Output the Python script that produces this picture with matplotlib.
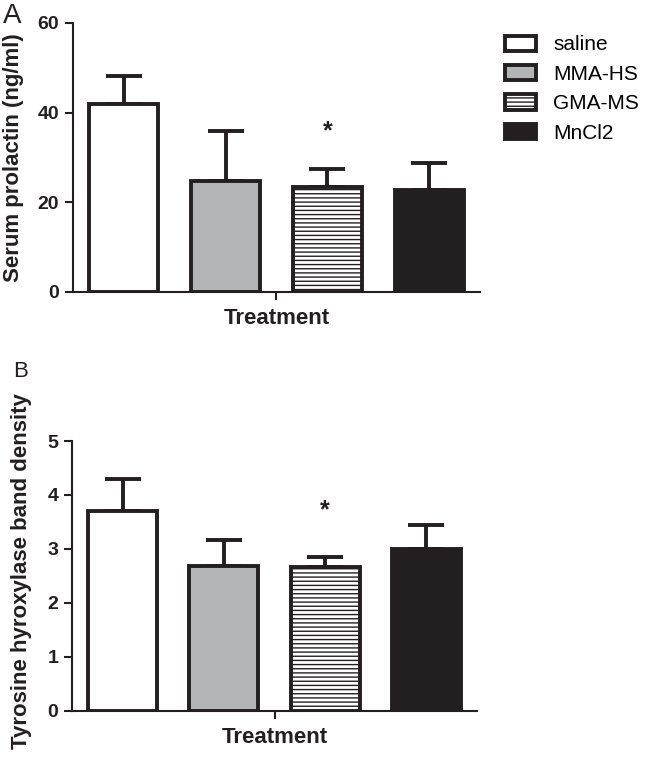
import matplotlib
matplotlib.use('Agg')
import matplotlib.pyplot as plt
from matplotlib.patches import Patch

# data
groups = ['saline', 'MMA-HS', 'GMA-MS', 'MnCl2']
prolactin = [42.0, 24.8, 23.4, 22.8]
prolactin_err = [6.2, 11.1, 4.1, 5.9]
th_density = [3.70, 2.68, 2.66, 2.99]
th_density_err = [0.59, 0.49, 0.19, 0.46]
sig_group = 2  # GMA-MS marked with *

edge = '#231f20'
fills = ['white', '#b3b4b6', 'white', '#231f20']
hatches = [None, None, '----', None]

plt.rcParams['font.family'] = ['Liberation Sans', 'DejaVu Sans']
plt.rcParams['hatch.linewidth'] = 1.0
plt.rcParams['hatch.color'] = edge

fig = plt.figure(figsize=(6.46, 7.58), dpi=100)
ax_a = fig.add_axes([0.113, 0.6148, 0.630, 0.3549])
ax_b = fig.add_axes([0.1115, 0.0624, 0.627, 0.3558])


def draw_panel(ax, values, errs, ylim, yticks, ylabel, star_y):
    x = list(range(len(values)))
    ax.errorbar(x, values, yerr=[[0] * len(errs), errs], fmt='none',
                ecolor=edge, elinewidth=2.8, capsize=13, capthick=2.8, zorder=1)
    for xi, v, fc, h in zip(x, values, fills, hatches):
        ax.bar(xi, v, width=0.68, color=fc, edgecolor=edge, linewidth=2.8,
               hatch=h, zorder=2)
    ax.text(sig_group, star_y, '*', ha='center', va='center',
            fontsize=18, fontweight='bold', color=edge)
    ax.set_xlim(-0.5, 3.5)
    ax.set_ylim(*ylim)
    ax.set_yticks(yticks)
    ax.set_xticks([1.5])
    ax.set_xticklabels([''])
    for side in ['top', 'right']:
        ax.spines[side].set_visible(False)
    for side in ['left', 'bottom']:
        ax.spines[side].set_linewidth(1.5)
        ax.spines[side].set_color(edge)
    ax.tick_params(axis='both', length=6, width=1.5, color=edge)
    ax.tick_params(axis='y', labelsize=14, pad=4, labelcolor=edge)
    for lab in ax.get_yticklabels():
        lab.set_fontweight('bold')
    ax.set_xlabel('Treatment', fontsize=16, fontweight='bold', labelpad=2,
                  color=edge)
    ax.set_ylabel(ylabel, fontsize=16, fontweight='bold', color=edge)


draw_panel(ax_a, prolactin, prolactin_err, (0, 60), [0, 20, 40, 60],
           'Serum prolactin (ng/ml)', 35.9)
draw_panel(ax_b, th_density, th_density_err, (0, 5), [0, 1, 2, 3, 4, 5],
           'Tyrosine hyroxylase band density', 3.72)

ax_a.yaxis.set_label_coords(-0.12, 0.5)
ax_b.yaxis.set_label_coords(-0.10, 0.518)

fig.text(0.004, 0.97, 'A', fontsize=20, color=edge)
fig.text(0.02, 0.502, 'B', fontsize=16, color=edge)

handles = [Patch(facecolor=fc, edgecolor=edge, linewidth=2.8, hatch=h)
           for fc, h in zip(fills, hatches)]
fig.legend(handles, groups, loc='upper left', bbox_to_anchor=(0.753, 0.978),
           frameon=False, fontsize=15, handlelength=1.5, handleheight=0.75,
           handletextpad=0.8, labelspacing=0.5)

plt.savefig('out.png', dpi=100)
